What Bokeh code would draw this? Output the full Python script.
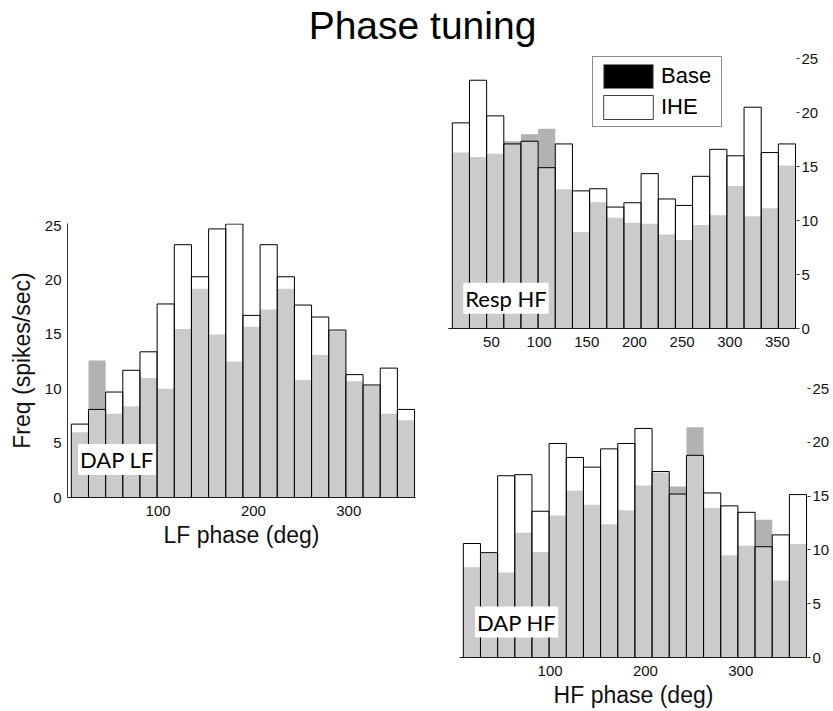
from bokeh.plotting import figure
from bokeh.models import Label, Legend, LegendItem, Range1d, Spacer
from bokeh.layouts import column, row
from bokeh.embed import file_html
from bokeh.resources import INLINE

# ---- data: 20 phase bins (deg, bin centres), firing rate (spikes/sec) ----
bin_centers = [18, 36, 54, 72, 90, 108, 126, 144, 162, 180,
               198, 216, 234, 252, 270, 288, 306, 324, 342, 360]
bin_width = 18

dap_lf_base = [6.0, 12.6, 7.7, 8.4, 11.0, 10.0, 15.5, 19.2, 15.0, 12.5,
               15.7, 17.3, 19.2, 10.8, 13.1, 15.3, 10.7, 10.3, 7.7, 7.1]
dap_lf_ihe = [6.75, 8.1, 9.7, 11.7, 13.4, 17.8, 23.25, 20.3, 24.7, 25.15,
              16.75, 23.25, 20.3, 17.7, 16.6, 15.4, 11.3, 10.35, 11.9, 8.1]

resp_hf_base = [16.3, 15.9, 16.2, 17.35, 18.0, 18.5, 12.9, 8.95, 11.7, 10.25,
                9.8, 9.7, 8.7, 8.2, 9.6, 10.5, 13.2, 10.4, 11.15, 15.1]
resp_hf_ihe = [19.05, 23.0, 19.7, 17.1, 17.35, 14.9, 17.1, 12.75, 12.95, 11.25,
               11.65, 14.35, 12.0, 11.4, 14.1, 16.6, 16.0, 20.5, 16.3, 17.1]

dap_hf_base = [8.4, 9.7, 7.9, 11.6, 9.8, 13.2, 15.5, 14.2, 12.4, 13.7,
               16.0, 17.2, 15.9, 21.4, 13.9, 9.5, 10.4, 12.8, 7.15, 10.55]
dap_hf_ihe = [10.6, 9.75, 16.9, 17.0, 13.6, 19.9, 18.6, 17.7, 19.4, 19.9,
              21.3, 17.3, 15.2, 18.8, 15.3, 14.1, 13.5, 10.3, 11.4, 15.15]

y_ticks = [0, 5, 10, 15, 20, 25]
lf_x_ticks = [100, 200, 300]
resp_x_ticks = [50, 100, 150, 200, 250, 300, 350]
hf_x_ticks = [100, 200, 300]

series_names = ["Base", "IHE"]
title_text = "Phase tuning"

ARIAL = "Liberation Sans"
BASE_FILL = "#b2b2b2"


def make_panel(w, h, mbl, mbr, mbt, mbb, base, ihe, xticks, yloc, xlabel=None, ylabel=None):
    p = figure(width=w, height=h, x_range=Range1d(5, 370), y_range=Range1d(0, 25.2),
               toolbar_location=None, output_backend="svg", y_axis_location=yloc,
               min_border_left=mbl, min_border_right=mbr, min_border_top=mbt,
               min_border_bottom=mbb, outline_line_color=None,
               background_fill_color="white", border_fill_color="white")
    p.grid.visible = False
    p.vbar(x=bin_centers, width=bin_width, top=base, bottom=0,
           fill_color=BASE_FILL, line_color=None)
    p.vbar(x=bin_centers, width=bin_width, top=ihe, bottom=0,
           fill_color="white", fill_alpha=0.33, line_color="black", line_width=1)
    for ax in p.axis:
        ax.major_label_text_font = ARIAL
        ax.major_label_text_font_size = "15px"
        ax.major_label_text_color = "#111111"
        ax.axis_label_text_font = ARIAL
        ax.axis_label_text_font_size = "23px"
        ax.axis_label_text_font_style = "normal"
        ax.axis_label_text_color = "#111111"
        ax.minor_tick_in = 0
        ax.minor_tick_out = 0
        ax.major_tick_in = 0
        ax.major_tick_out = 0
    p.xaxis.ticker = xticks
    p.yaxis.ticker = y_ticks
    p.xaxis.axis_line_color = "#1a1a1a"
    p.xaxis.major_label_standoff = 8
    p.xaxis.axis_label_standoff = 3
    if xlabel:
        p.xaxis.axis_label = xlabel
    if ylabel:
        p.yaxis.axis_label = ylabel
    if yloc == "left":
        p.yaxis.axis_line_color = "#333333"
        p.yaxis.major_label_standoff = 6
        p.yaxis.axis_label_standoff = 7
    else:
        p.yaxis.axis_line_color = None
        p.yaxis.major_tick_out = 3
        p.yaxis.major_tick_line_color = "#333333"
        p.yaxis.major_label_standoff = 2
    return p


def tag(p, x, y, text):
    p.add_layout(Label(x=x, y=y, text=text, text_font="Lato", text_font_size="22px",
                       text_align="left", text_baseline="middle", text_color="black",
                       background_fill_color="white", padding=2))


TITLE_H = 48

# title bar
tfig = figure(width=833, height=TITLE_H, x_range=Range1d(0, 833), y_range=Range1d(0, TITLE_H),
              toolbar_location=None, output_backend="svg", x_axis_type=None,
              y_axis_type=None, min_border=0, outline_line_color=None)
tfig.grid.visible = False
tfig.add_layout(Label(x=422, y=TITLE_H - 25, text=title_text, text_align="center",
                      text_baseline="middle", text_font=ARIAL, text_font_size="39px",
                      text_color="black"))

left = make_panel(430, 711 - TITLE_H, 67, 15, 223 - TITLE_H, 214, dap_lf_base, dap_lf_ihe,
                  lf_x_ticks, "left", xlabel="LF phase (deg)", ylabel="Freq (spikes/sec)")
tag(left, 16, 3.5, "DAP LF")

tr = make_panel(403, 360 - TITLE_H, 18, 37, 56 - TITLE_H, 32, resp_hf_base, resp_hf_ihe,
                resp_x_ticks, "right")
tag(tr, 20.5, 2.8, "Resp HF")

# legend swatches: carrier renderers placed outside the visible x range
r_b = tr.vbar(x=[-100], top=[0], bottom=[0], width=bin_width,
              fill_color="black", line_color="#7f7f7f")
r_i = tr.vbar(x=[-100], top=[0], bottom=[0], width=bin_width,
              fill_color="white", line_color="#404040")
legend = Legend(items=[LegendItem(label=series_names[0], renderers=[r_b]),
                       LegendItem(label=series_names[1], renderers=[r_i])],
                location=(144, 201), border_line_color="#1a1a1a", border_line_width=1,
                background_fill_color="white", background_fill_alpha=1.0,
                padding=4, spacing=1, glyph_width=62, glyph_height=30,
                label_standoff=2, label_width=56, label_text_font=ARIAL,
                label_text_font_size="22px", label_text_color="black", margin=0)
tr.add_layout(legend)

br = make_panel(392, 351, 18, 26, 26, 54, dap_hf_base, dap_hf_ihe, hf_x_ticks, "right",
                xlabel="HF phase (deg)")
tag(br, 21.2, 3.3, "DAP HF")

layout = column(tfig, row(left, column(tr, row(Spacer(width=11, height=351), br))))

open("out.html", "w").write(file_html(layout, INLINE))
